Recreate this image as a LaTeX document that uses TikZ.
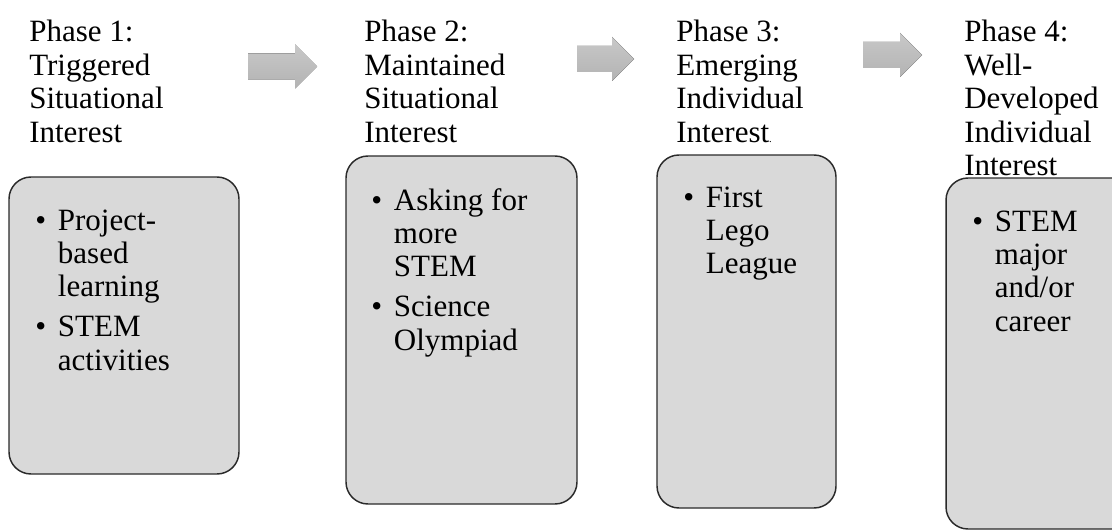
\documentclass[tikz,border=0pt]{standalone}
\usepackage{fontspec}
\setmainfont{Liberation Serif}
\definecolor{panelgray}{HTML}{D9D9D9}
\definecolor{panelline}{HTML}{2A2A2A}
\definecolor{arrowtop}{HTML}{C8C8C8}
\definecolor{arrowbottom}{HTML}{B3B3B3}
\newcommand\phasefont{\fontsize{23.25pt}{25.1pt}\selectfont}
% one bulleted entry with a hanging indent (lines broken with \newline)
\newcommand\bul[1]{\par\noindent\hangindent=17pt\hangafter=1\makebox[17pt][l]{•}#1\par}
% block arrow: left end, tip, vertical centre
\newcommand\flowarrow[3]{%
  \fill[flow] (#1,#3-13) -- (#2-22,#3-13) -- (#2-22,#3-22) -- (#2,#3)
    -- (#2-22,#3+22) -- (#2-22,#3+13) -- (#1,#3+13) -- cycle;}
\begin{document}
\begin{tikzpicture}[x=0.75pt,y=-0.75pt,
  panel/.style={draw=panelline,line width=1.1pt,fill=panelgray,rounded corners=16.5pt},
  heading/.style={anchor=base west,inner sep=0pt,font=\phasefont},
  itemlist/.style={anchor=base west,inner sep=0pt,font=\phasefont},
  flow/.style={top color=arrowtop,bottom color=arrowbottom}]
\path[use as bounding box] (0,0) rectangle (1112,531);
\clip (0,0) rectangle (1112,531);

% phase panels
\path[panel] (9,177) rectangle (239,474);
\path[panel] (346,156) rectangle (577,504);
\path[panel] (657,155) rectangle (836,508);
\path[panel] (946,178) rectangle (1150,529);

% arrows between phases
\flowarrow{248}{317}{66.5}
\flowarrow{577}{634}{59}
\flowarrow{863}{922}{55}

% phase headings
\node[heading] (t1) at (29,42)  {\parbox[t]{150pt}{\raggedright Phase 1:\\Triggered\\Situational\\Interest}};
\node[heading] (t2) at (364,42) {\parbox[t]{150pt}{\raggedright Phase 2:\\Maintained\\Situational\\Interest}};
\node[heading] (t3) at (676,42) {\parbox[t]{150pt}{\raggedright Phase 3:\\Emerging\\Individual\\Interest{\fontsize{8pt}{8pt}\selectfont.}}};
\node[heading] (t4) at (964,42) {\parbox[t]{150pt}{\raggedright Phase 4:\\Well-\\Developed\\Individual\\Interest}};

% panel contents
\node[itemlist] (l1) at (35,230) {\parbox[t]{170pt}{\raggedright\setlength\parskip{4.9pt}%
  \bul{Project-\newline based\newline learning}\bul{STEM\newline activities}}};
\node[itemlist] (l2) at (371,210) {\parbox[t]{170pt}{\raggedright\setlength\parskip{4.9pt}%
  \bul{Asking for\newline more\newline STEM}\bul{Science\newline Olympiad}}};
\node[itemlist] (l3) at (683,207) {\parbox[t]{130pt}{\raggedright\setlength\parskip{4.9pt}%
  \bul{First\newline Lego\newline League}}};
\node[itemlist] (l4) at (972,231) {\parbox[t]{120pt}{\raggedright\setlength\parskip{4.9pt}%
  \bul{STEM\newline major\newline and/or\newline career}}};
\end{tikzpicture}
\end{document}
